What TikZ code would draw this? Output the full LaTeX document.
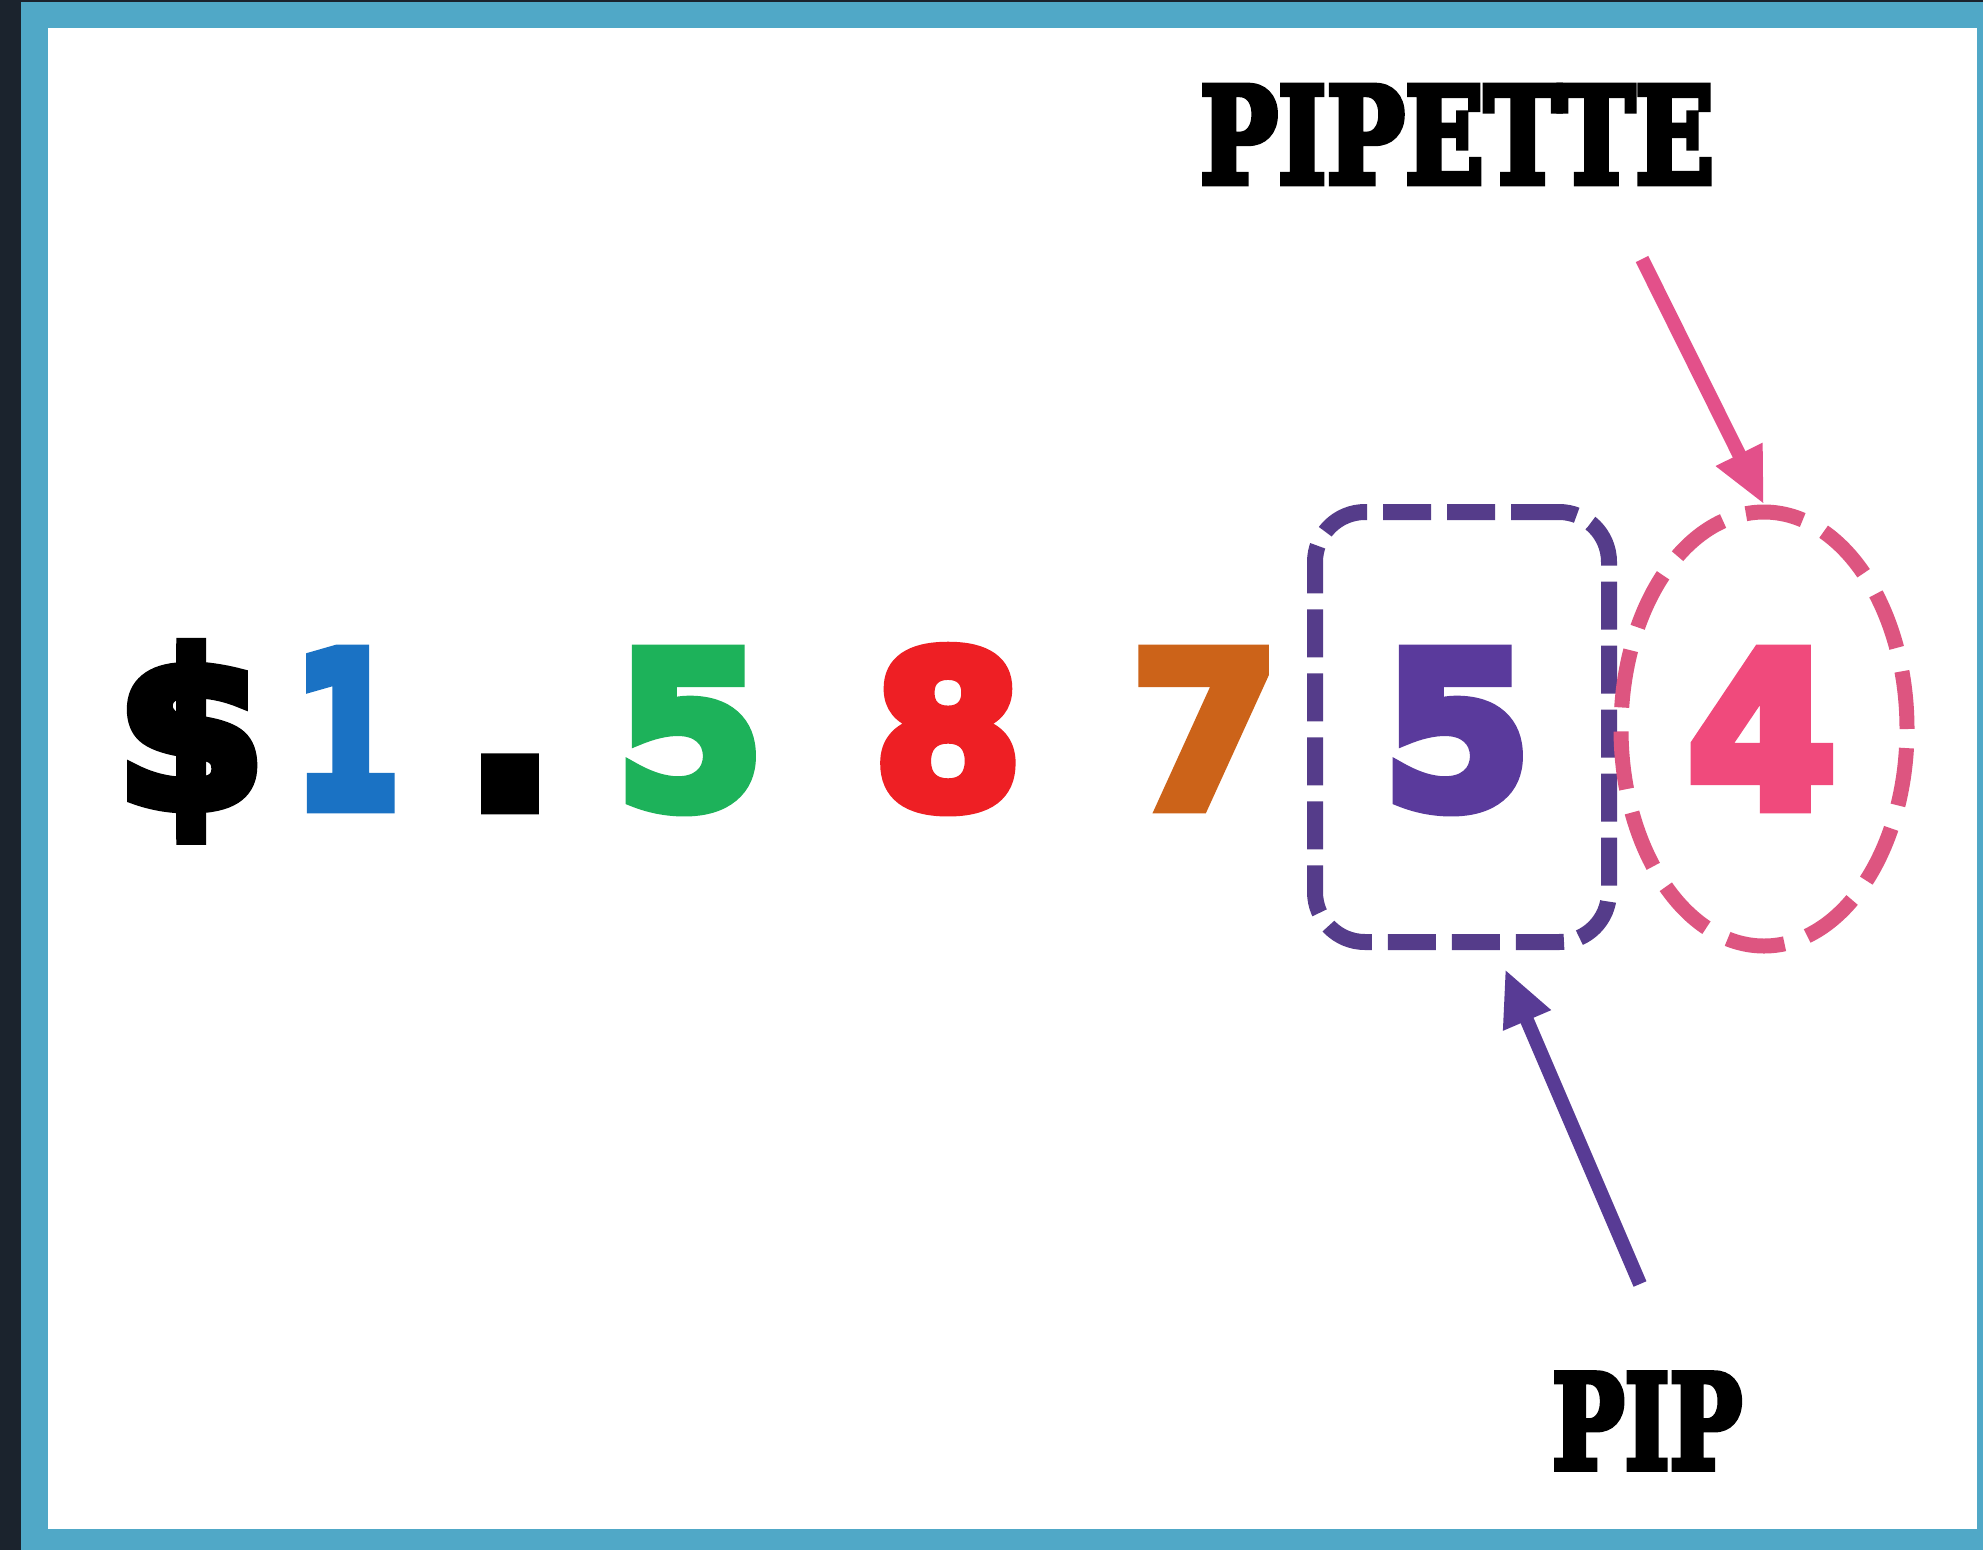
\documentclass[tikz,border=0pt]{standalone}
\usepackage{fontspec}
\usetikzlibrary{shapes.geometric,arrows.meta}
\newfontfamily\digitfont[FakeBold=6]{DejaVu Sans Bold}
\newfontfamily\slabfont[FakeBold=5]{DejaVu Serif Bold}
\definecolor{darkedge}{HTML}{1B232D}
\definecolor{teal}{HTML}{50A8C7}
\definecolor{cblue}{HTML}{1A72C4}
\definecolor{cgreen}{HTML}{1DB25A}
\definecolor{cred}{HTML}{EE1F24}
\definecolor{corange}{HTML}{CC6319}
\definecolor{cpurple}{HTML}{5A3A9C}
\definecolor{cpink}{HTML}{F04A7C}
\definecolor{boxpurple}{HTML}{553C8A}
\definecolor{ellpink}{HTML}{DD5580}
\definecolor{arrpink}{HTML}{E3508A}
\definecolor{arrpurple}{HTML}{583B95}
\begin{document}
\begin{tikzpicture}[x=1pt,y=-1pt,
  digit/.style={anchor=base,inner sep=0pt,font=\digitfont\fontsize{214}{214}\selectfont},
  label/.style={inner sep=0pt,text=black},
  dashbox/.style={draw=boxpurple,line width=16pt,dash pattern=on 48pt off 16pt,rounded corners=50pt,inner sep=0pt},
  dashell/.style={ellipse,draw=ellpink,line width=15pt,dash pattern=on 58pt off 24pt,inner sep=0pt},
  pointer/.style={line width=14pt,-{Triangle[length=56pt,width=48pt]}}
]
\useasboundingbox (0,0) rectangle (1983,1550);
\fill[darkedge] (0,0) rectangle (1983,1550);
\fill[teal] (21,2) rectangle (1983,1550);
\fill[white] (48,28) rectangle (1977,1529);

\node[digit] (dollar) at (191,807) {\$};
\node[digit,text=cblue] (d1) at (347,807) {\scalebox{0.72}[1]{1}};
\node[digit,font=\digitfont\fontsize{245}{245}\selectfont] (dot) at (510,807) {.};
\node[digit,text=cgreen] (d5a) at (690,807) {5};
\node[digit,text=cred] (d8) at (948,807) {8};
\node[digit,text=corange] (d7) at (1205,807) {7};
\node[digit,text=cpurple] (d5b) at (1457,807) {5};
\node[digit,text=cpink] (d4) at (1762,807) {4};

\node[dashbox,minimum width=294pt,minimum height=430pt] (pipbox) at (1462,727) {};
\node[dashell,minimum width=286pt,minimum height=434pt] (pipell) at (1764,729) {};

\node[label] (pipette) at (1457,134.5) {\resizebox{514pt}{97pt}{\slabfont PIPETTE}};
\node[label] (pip) at (1647,1421) {\resizebox{190pt}{95pt}{\slabfont PIP}};

\coordinate (pinkstart) at (1642,259);
\coordinate (purplestart) at (1640,1284);
\draw[pointer,draw=arrpink,fill=arrpink] (pinkstart) -- (pipell.north);
\draw[pointer,draw=arrpurple,fill=arrpurple] (purplestart) -- ([xshift=43pt,yshift=-19pt]pipbox.south);
\end{tikzpicture}
\end{document}
